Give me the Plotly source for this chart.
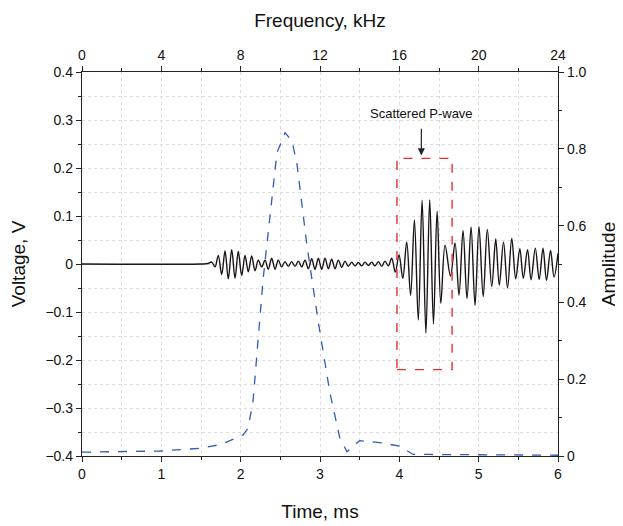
import plotly.graph_objects as go

# ---- spectrum (top axis: frequency kHz, right axis: amplitude) ----
freq_khz = [0, 1.9, 3.93, 5.95, 7.0, 7.46, 8.12, 8.37, 8.62, 9.13, 9.48, 9.83, 10.24,
            10.59, 10.84, 11.35, 11.9, 12.5, 13.0, 13.36, 14.0, 15.0, 16.0, 16.7, 17.5, 20.0, 24.0]
spec_amp = [0.010, 0.012, 0.013, 0.020, 0.030, 0.040, 0.055, 0.072, 0.14, 0.46, 0.62, 0.79, 0.842,
            0.82, 0.76, 0.545, 0.354, 0.164, 0.047, 0.011, 0.040, 0.035, 0.026, 0.004, 0.004, 0.003, 0.002]

# ---- waveform extrema (time ms, voltage V) ----
wave_t = [0.0, 1.50, 1.59, 1.635, 1.677, 1.718, 1.761, 1.803, 1.844, 1.887, 1.929, 1.970, 2.013,
          2.055, 2.096, 2.139, 2.181, 2.222, 2.265, 2.307, 2.348, 2.391, 2.433, 2.474,
          2.517, 2.559, 2.600, 2.643, 2.685, 2.727, 2.769, 2.811, 2.853, 2.895, 2.937,
          2.979, 3.021, 3.063, 3.105, 3.147, 3.189, 3.231, 3.274, 3.315, 3.357, 3.400,
          3.441, 3.483, 3.526, 3.567, 3.609, 3.652, 3.693, 3.735, 3.778, 3.819, 3.861,
          3.904, 3.949, 3.996, 4.044, 4.093, 4.142, 4.190, 4.239, 4.287, 4.335, 4.383,
          4.430, 4.476, 4.523, 4.576, 4.645, 4.702, 4.752, 4.803, 4.853, 4.904, 4.954,
          5.004, 5.057, 5.109, 5.165, 5.215, 5.260, 5.313, 5.364, 5.417, 5.467, 5.519,
          5.563, 5.616, 5.660, 5.714, 5.763, 5.811, 5.855, 5.906, 5.950, 6.0]
wave_v = [0.0, 0.0, 0.001, 0.004, -0.006, 0.018, -0.022, 0.027, -0.031, 0.030, -0.030, 0.026, -0.024,
          0.018, -0.016, 0.017, -0.014, 0.008, -0.006, 0.008, -0.011, 0.012, -0.011, 0.008,
          -0.006, 0.005, -0.005, 0.005, -0.005, 0.006, -0.006, 0.008, -0.010, 0.011, -0.011,
          0.012, -0.011, 0.012, -0.010, 0.010, -0.010, 0.008, -0.007, 0.006, -0.005, 0.004,
          -0.004, 0.003, -0.004, 0.004, -0.003, 0.004, -0.004, 0.005, -0.005, 0.006, -0.004,
          0.012, -0.017, 0.019, -0.030, 0.046, -0.065, 0.092, -0.117, 0.133, -0.144, 0.134,
          -0.125, 0.110, -0.082, 0.039, -0.025, 0.044, -0.065, 0.070, -0.072, 0.077, -0.086,
          0.078, -0.068, 0.072, -0.047, 0.052, -0.044, 0.046, -0.050, 0.053, -0.031, 0.032,
          -0.030, 0.030, -0.033, 0.033, -0.032, 0.033, -0.034, 0.028, -0.027, 0.022]

# ---- annotation box ----
box_t = [3.97, 4.665]
box_v = [-0.22, 0.22]
label_text = "Scattered P-wave"

FONT = "Liberation Sans, Arial, sans-serif"
GRID = "#dcdcdc"
AX = "#2a2020"

fig = go.Figure()
fig.add_trace(go.Scatter(x=freq_khz, y=spec_amp, xaxis="x2", yaxis="y2", mode="lines",
                         line=dict(color="#2e5cb8", width=1.3, dash="dash"), showlegend=False))
fig.add_trace(go.Scatter(x=wave_t, y=wave_v, mode="lines",
                         line=dict(color="#1a1414", width=1.4, shape="spline", smoothing=1),
                         showlegend=False))

fig.add_shape(type="rect", x0=box_t[0], x1=box_t[1], y0=box_v[0], y1=box_v[1],
              xref="x", yref="y", line=dict(color="#e8312f", width=1.4, dash="dash"))
xc = (box_t[0] + box_t[1]) / 2 - 0.04
fig.add_annotation(x=xc, y=0.226, ax=xc, ay=0.285,
                   xref="x", yref="y", axref="x", ayref="y", text="", showarrow=True,
                   arrowhead=2, arrowsize=1.2, arrowwidth=1.2, arrowcolor="#222")
fig.add_annotation(x=xc, y=0.313, xref="x", yref="y", text=label_text,
                   showarrow=False, font=dict(size=13, color="#111", family=FONT))

common = dict(showline=True, linecolor=AX, linewidth=1.3, ticks="outside", ticklen=5,
              tickcolor=AX, tickwidth=1.2, tickfont=dict(size=14, color="#111", family=FONT),
              zeroline=False, automargin=False)

fig.update_layout(
    width=615, height=518,
    margin=dict(l=74, r=65, t=64, b=70),
    paper_bgcolor="white", plot_bgcolor="white",
    font=dict(family=FONT, color="#111"),
    xaxis=dict(range=[0, 6], dtick=1, showgrid=True, gridcolor=GRID, griddash="dot",
               minor=dict(dtick=0.5, ticks="outside", ticklen=3, tickcolor=AX, showgrid=True,
                          gridcolor=GRID, griddash="dot"),
               title=dict(text="Time, ms", font=dict(size=19, family=FONT), standoff=23), **common),
    xaxis2=dict(range=[0, 24], dtick=4, overlaying="x", side="top", showgrid=False,
                minor=dict(dtick=2, ticks="outside", ticklen=3, tickcolor=AX),
                title=dict(text="Frequency, kHz", font=dict(size=19, family=FONT), standoff=14), **common),
    yaxis=dict(range=[-0.4, 0.4], dtick=0.1, showgrid=True, gridcolor=GRID, griddash="dot",
               tickvals=[-0.4, -0.3, -0.2, -0.1, 0, 0.1, 0.2, 0.3, 0.4],
               ticktext=["\u22120.4", "\u22120.3", "\u22120.2", "\u22120.1", "0", "0.1", "0.2", "0.3", "0.4"],
               minor=dict(dtick=0.05, ticks="outside", ticklen=3, tickcolor=AX, showgrid=True,
                          gridcolor=GRID, griddash="dot"),
               title=dict(text="Voltage, V", font=dict(size=19, family=FONT), standoff=17), **common),
    yaxis2=dict(range=[0, 1], dtick=0.2, overlaying="y", side="right", showgrid=False,
                tickvals=[0, 0.2, 0.4, 0.6, 0.8, 1.0], ticktext=["0", "0.2", "0.4", "0.6", "0.8", "1.0"],
                minor=dict(dtick=0.1, ticks="outside", ticklen=3, tickcolor=AX),
                title=dict(text="Amplitude", font=dict(size=19, family=FONT), standoff=16), **common),
)

fig.write_html("out.html")
